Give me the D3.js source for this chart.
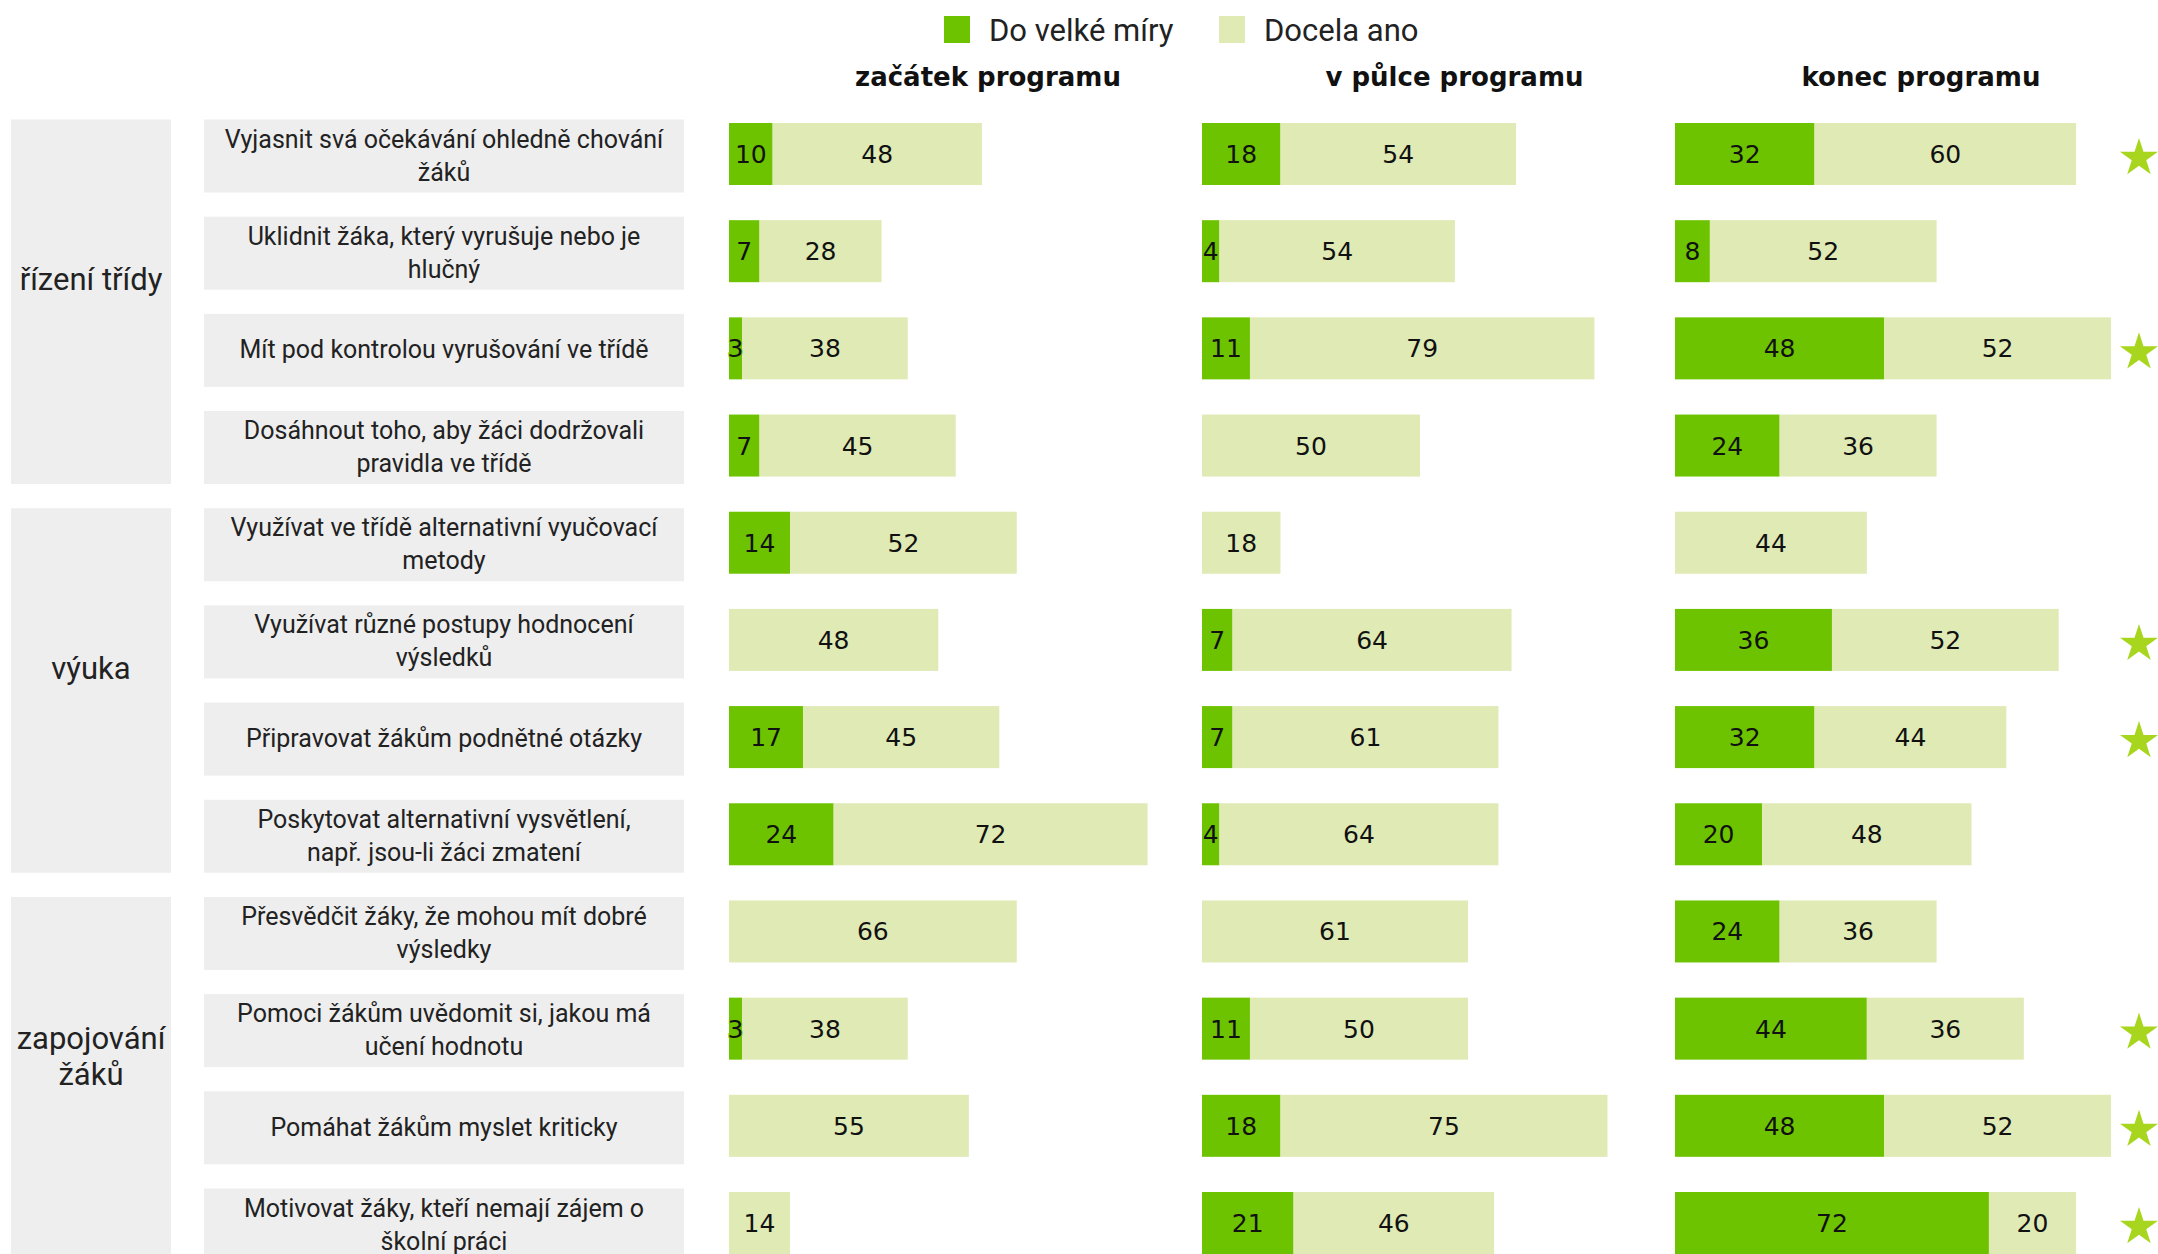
<!DOCTYPE html>
<html><head><meta charset="utf-8">
<script src="https://cdn.jsdelivr.net/npm/d3@7"></script>
<style>
html,body{margin:0;padding:0;background:#fff;}
svg{display:block;}
</style></head>
<body>
<script>
const groups = ["řízení třídy", "výuka", "zapojování\nžáků"];
const groupOf = [0,0,0,0,1,1,1,1,2,2,2,2];
const items = [
  "Vyjasnit svá očekávání ohledně chování\nžáků",
  "Uklidnit žáka, který vyrušuje nebo je\nhlučný",
  "Mít pod kontrolou vyrušování ve třídě",
  "Dosáhnout toho, aby žáci dodržovali\npravidla ve třídě",
  "Využívat ve třídě alternativní vyučovací\nmetody",
  "Využívat různé postupy hodnocení\nvýsledků",
  "Připravovat žákům podnětné otázky",
  "Poskytovat alternativní vysvětlení,\nnapř. jsou-li žáci zmatení",
  "Přesvědčit žáky, že mohou mít dobré\nvýsledky",
  "Pomoci žákům uvědomit si, jakou má\nučení hodnotu",
  "Pomáhat žákům myslet kriticky",
  "Motivovat žáky, kteří nemají zájem o\nškolní práci"
];
const phases = ["začátek programu", "v půlce programu", "konec programu"];
const seriesNames = ["Do velké míry", "Docela ano"];
// values per phase: [Do velké míry, Docela ano]
const startStrong = [10,7,3,7,14,0,17,24,0,3,0,0];
const startSome   = [48,28,38,45,52,48,45,72,66,38,55,14];
const midStrong   = [18,4,11,0,0,7,7,4,0,11,18,21];
const midSome     = [54,54,79,50,18,64,61,64,61,50,75,46];
const endStrong   = [32,8,48,24,0,36,32,20,24,44,48,72];
const endSome     = [60,52,52,36,44,52,44,48,36,36,52,20];
const starred     = [1,0,1,0,0,1,1,0,0,1,1,1];

const W = 2158, H = 1254;
const cDark = "#6DC300", cLight = "#DFEAB5", cGray = "#EEEEEE", cStar = "#A8D61E";
const svg = d3.select("body").append("svg").attr("width", W).attr("height", H);

const data = [[startStrong,startSome],[midStrong,midSome],[endStrong,endSome]];

const y = d3.scalePoint().domain(d3.range(items.length)).range([154, 1223]);
const colX = d3.scalePoint().domain(d3.range(phases.length)).range([729, 1675]);
const titleX = d3.scalePoint().domain(d3.range(phases.length)).range([988, 1921]);
const x = d3.scaleLinear().domain([0, 100]).range([0, 436]);
const barH = 62, boxH = 73;
const textFont = "Roboto, sans-serif";

// legend
const legend = svg.append("g");
const legX = [944, 1219];
seriesNames.forEach((s, i) => {
  legend.append("rect").attr("x", legX[i]).attr("y", 16).attr("width", 26).attr("height", 27)
    .attr("fill", i === 0 ? cDark : cLight);
  legend.append("text").attr("x", legX[i] + 45).attr("y", 41).text(s)
    .attr("font-family", textFont).attr("font-size", 31).attr("fill", "#222");
});

// phase titles
phases.forEach((p, j) => {
  svg.append("text").attr("x", titleX(j)).attr("y", 86).attr("text-anchor", "middle")
    .attr("font-family", "DejaVu Sans, sans-serif").attr("font-weight", "bold").attr("font-size", 26)
    .attr("fill", "#111").text(p);
});

// group boxes
groups.forEach((g, gi) => {
  const idx = d3.range(items.length).filter(i => groupOf[i] === gi);
  const top = y(idx[0]) - boxH / 2 + 2;
  const bot = y(idx[idx.length - 1]) + boxH / 2 + 2;
  svg.append("rect").attr("x", 11).attr("y", top).attr("width", 160).attr("height", bot - top).attr("fill", cGray);
  const lines = g.split("\n");
  const t = svg.append("text").attr("text-anchor", "middle")
    .attr("font-family", textFont).attr("font-size", 31).attr("fill", "#222");
  const lh = 36;
  const cy = (top + bot) / 2 - (lines.length - 1) * lh / 2 - 12;
  lines.forEach((l, k) => t.append("tspan").attr("x", 91).attr("y", cy + k * lh).text(l));
});

// item label boxes
items.forEach((it, i) => {
  const cy = y(i) + 2;
  svg.append("rect").attr("x", 204).attr("y", cy - boxH / 2).attr("width", 480).attr("height", boxH).attr("fill", cGray);
  const lines = it.split("\n");
  const lh = 33;
  const t = svg.append("text").attr("text-anchor", "middle")
    .attr("font-family", textFont).attr("font-size", 25).attr("fill", "#222");
  const y0 = cy - (lines.length - 1) * lh / 2 + 8;
  lines.forEach((l, k) => t.append("tspan").attr("x", 444).attr("y", y0 + k * lh).text(l));
});

// bars
data.forEach((pair, j) => {
  const g = svg.append("g").attr("transform", `translate(${colX(j)},0)`);
  items.forEach((it, i) => {
    const a = pair[0][i], b = pair[1][i];
    const top = y(i) - barH / 2;
    if (a > 0) {
      g.append("rect").attr("x", x(0)).attr("y", top).attr("width", x(a) - x(0)).attr("height", barH).attr("fill", cDark);
    }
    if (b > 0) {
      g.append("rect").attr("x", x(a)).attr("y", top).attr("width", x(a + b) - x(a)).attr("height", barH).attr("fill", cLight);
    }
    if (a > 0) {
      g.append("text").attr("x", (x(0) + x(a)) / 2).attr("y", y(i) + 9).attr("text-anchor", "middle")
        .attr("font-family", "DejaVu Sans, sans-serif").attr("font-size", 25).attr("fill", "#111")
        .attr("stroke", cDark).attr("stroke-width", 2).attr("paint-order", "stroke").text(a);
    }
    if (b > 0) {
      g.append("text").attr("x", (x(a) + x(a + b)) / 2).attr("y", y(i) + 9).attr("text-anchor", "middle")
        .attr("font-family", "DejaVu Sans, sans-serif").attr("font-size", 25).attr("fill", "#111").text(b);
    }
  });
});

// stars
const star = d3.symbol().type(d3.symbolStar).size(450);
items.forEach((it, i) => {
  if (starred[i]) {
    svg.append("path").attr("d", star()).attr("transform", `translate(2139,${y(i) + 4})`).attr("fill", cStar);
  }
});
</script>
</body></html>
